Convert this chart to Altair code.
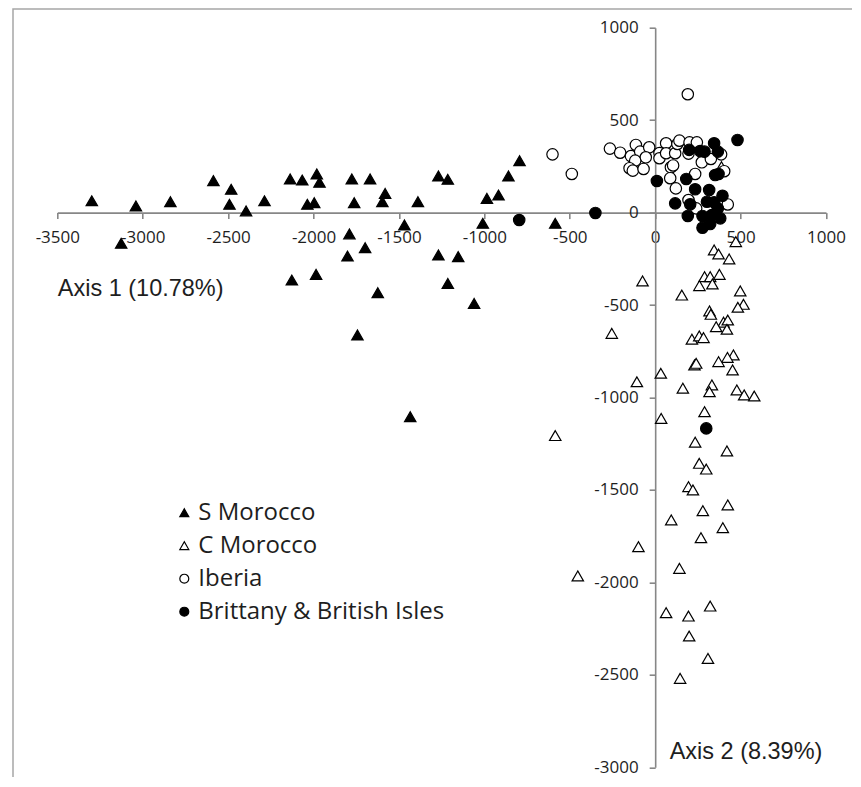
import altair as alt
import pandas as pd

groups = ["S Morocco", "C Morocco", "Iberia", "Brittany & British Isles"]
shapes = ["triangle-up", "triangle-up", "circle", "circle"]
fills = ["#000000", "#ffffff", "#ffffff", "#000000"]
strokes = ["#000000", "#000000", "#000000", "#000000"]

s_morocco_x = [-3298, -3040, -2838, -2586, -2482, -2492, -2395, -2287, -2137, -2066,
               -3126, -2127, -1981, -1965, -2036, -1996, -1776, -1669, -1762, -1581,
               -1597, -1389, -1269, -1214, -985, -917, -859, -794, -1468, -1009,
               -585, -1790, -1698, -1801, -1269, -1153, -1985, -1624, -1214, -1060,
               -1743, -1434]
s_morocco_y = [64, 36, 59, 173, 126, 45, 9, 64, 182, 176,
               -166, -365, 209, 164, 45, 54, 182, 182, 54, 104,
               59, 59, 198, 180, 77, 95, 198, 281, -67, -58,
               -58, -115, -190, -235, -229, -238, -334, -433, -383, -491,
               -662, -1104]

c_morocco_x = [388, 472, 345, 371, 433, -74, 289, 322, 376, 259,
               335, 156, 498, 517, 484, 318, 326, 400, 425, 357,
               420, -254, 215, 258, 283, 458, 423, 371, 453, 230,
               240, 33, -107, 162, 332, 318, 478, 521, 580, 289,
               35, -585, 234, 420, 258, 299, 195, 221, 425, 279,
               94, 396, 268, -98, 142, -453, 322, 64, 195, 199,
               309, 146]
c_morocco_y = [248, -157, -202, -224, -251, -370, -347, -347, -334, -395,
               -386, -446, -424, -496, -512, -532, -550, -593, -581, -617,
               -631, -653, -685, -667, -676, -770, -783, -806, -851, -824,
               -815, -869, -915, -950, -932, -969, -959, -986, -992, -1077,
               -1113, -1206, -1242, -1289, -1356, -1387, -1482, -1500, -1581, -1612,
               -1662, -1704, -1758, -1807, -1924, -1965, -2128, -2164, -2182, -2290,
               -2411, -2519]

iberia_x = [-601, -488, -265, -205, -113, -142, -88, -35, -55, -117,
            -150, -131, -68, 25, 25, 64, 64, 117, 130, 142,
            201, 244, 195, 273, 326, 386, 92, 105, 88, 121,
            234, 404, 195, 240, 425, 191]
iberia_y = [315, 209, 346, 324, 366, 306, 330, 353, 299, 281,
            240, 227, 236, 322, 294, 375, 321, 321, 371, 389,
            380, 380, 319, 272, 290, 315, 245, 255, 186, 131,
            209, 224, 68, 23, 44, 640]

brittany_x = [-796, -350, 482, 345, 199, 263, 289, 367, 10, 182,
              351, 371, 234, 316, 117, 205, 303, 345, 394, 367,
              191, 277, 332, 381, 277, 322, 299]
brittany_y = [-40, -2, 393, 375, 339, 333, 330, 330, 171, 182,
              203, 209, 126, 122, 50, 45, 59, 56, 91, 23,
              -18, -18, -13, -31, -82, -62, -1167]

x_ticks = [-3500, -3000, -2500, -2000, -1500, -1000, -500, 0, 500, 1000]
y_ticks = [-3000, -2500, -2000, -1500, -1000, -500, 0, 500, 1000]
x_title = "Axis 1 (10.78%)"
y_title = "Axis 2 (8.39%)"

rows = []
for g, xs, ys in [(groups[0], s_morocco_x, s_morocco_y),
                  (groups[1], c_morocco_x, c_morocco_y),
                  (groups[2], iberia_x, iberia_y),
                  (groups[3], brittany_x, brittany_y)]:
    for a, b in zip(xs, ys):
        rows.append({"group": g, "axis1": a, "axis2": b})
df = pd.DataFrame(rows)
df["order"] = range(len(df))

W, H = 768.7, 739.6
x_dom = [-3500, 1000]
y_dom = [-3000, 1000]
x0_px = (0 - x_dom[0]) / (x_dom[1] - x_dom[0]) * W
y0_px = (y_dom[1] - 0) / (y_dom[1] - y_dom[0]) * H

axis_gray = "#878787"
text_col = "#1e1e1e"
tick_font = "Open Sans"
label_expr = "'' + datum.value"

x_axis = alt.Axis(
    values=x_ticks, offset=y0_px - H, grid=False, labelExpr=label_expr,
    domainColor=axis_gray, domainWidth=1.6, tickColor=axis_gray, tickWidth=1.6,
    tickSize=6, labelPadding=11, labelFlush=False, labelOverlap=False,
    labelFont=tick_font, labelFontSize=17, labelColor=text_col,
    title=x_title, titleX=0, titleY=83, titleAlign="left", titleBaseline="alphabetic",
    titleFont="Liberation Sans", titleFontSize=23.5, titleFontWeight="normal",
    titleColor=text_col, titleAngle=0,
)
y_axis = alt.Axis(
    values=y_ticks, offset=-x0_px, grid=False, labelExpr=label_expr,
    domainColor=axis_gray, domainWidth=1.6, tickColor=axis_gray, tickWidth=1.6,
    tickSize=6, labelPadding=11, labelOverlap=False,
    labelFont=tick_font, labelFontSize=17, labelColor=text_col,
    title=y_title, titleX=14, titleY=H - 9, titleAlign="left", titleBaseline="alphabetic",
    titleFont="Liberation Sans", titleFontSize=23.5, titleFontWeight="normal",
    titleColor=text_col, titleAngle=0,
)

legend = alt.Legend(
    title=None, orient="none", legendX=115, legendY=473, padding=0,
    rowPadding=9, labelOffset=2, symbolSize=80, labelLimit=500,
    labelFont=tick_font, labelFontSize=24, labelColor=text_col,
    symbolStrokeWidth=1.2,
)

points = alt.Chart(df).mark_point(filled=True, strokeWidth=1.2, size=130, opacity=1).encode(
    x=alt.X("axis1:Q", scale=alt.Scale(domain=x_dom, nice=False, zero=False), axis=x_axis),
    y=alt.Y("axis2:Q", scale=alt.Scale(domain=y_dom, nice=False, zero=False), axis=y_axis),
    shape=alt.Shape("group:N", scale=alt.Scale(domain=groups, range=shapes), legend=legend),
    fill=alt.Fill("group:N", scale=alt.Scale(domain=groups, range=fills), legend=legend),
    stroke=alt.Stroke("group:N", scale=alt.Scale(domain=groups, range=strokes), legend=legend),
    order=alt.Order("order:Q"),
)

frame = alt.Chart(alt.Data(values=[{"k": 1}])).mark_rect(
    fillOpacity=0, stroke="#a6a6a6", strokeWidth=1.5
).encode(
    x=alt.value(13 - 57.3), x2=alt.value(W + 60),
    y=alt.value(9 - 27.7), y2=alt.value(H + 40),
)

chart = alt.layer(frame, points).properties(
    width=W, height=H,
    autosize=alt.AutoSizeParams(type="none"),
    padding={"left": 49.3, "top": 19.7, "right": 26, "bottom": 10},
).configure_view(strokeWidth=0)

chart.save("out.html", embed_options={"renderer": "svg", "actions": False})
